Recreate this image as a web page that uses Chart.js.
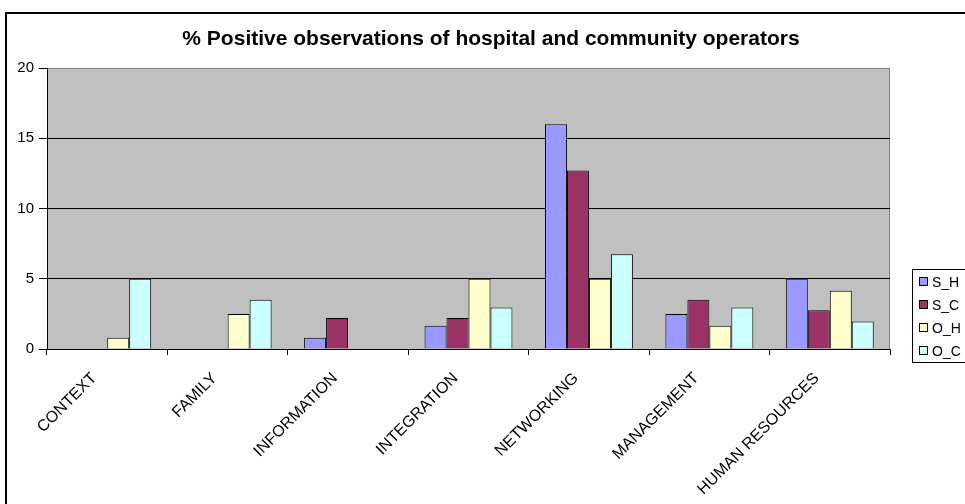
<!DOCTYPE html>
<html>
<head>
<meta charset="utf-8">
<script src="https://cdn.jsdelivr.net/npm/chart.js@4.4.1/dist/chart.umd.min.js"></script>
<style>
  html, body { margin: 0; padding: 0; background: #fff; overflow: hidden; }
  #wrap { width: 965px; height: 504px; }
</style>
</head>
<body>
<div id="wrap"><canvas id="myChart" width="965" height="504"></canvas></div>
<script>
// categories and series
var categories = ['CONTEXT', 'FAMILY', 'INFORMATION', 'INTEGRATION', 'NETWORKING', 'MANAGEMENT', 'HUMAN RESOURCES'];
var S_H = [0, 0, 0.8, 1.65, 16.0, 2.5, 5];
var S_C = [0, 0, 2.2, 2.2, 12.7, 3.5, 2.75];
var O_H = [0.8, 2.5, 0, 5, 5, 1.65, 4.15];
var O_C = [5, 3.5, 0, 2.95, 6.75, 2.95, 1.95];
var yTicks = [0, 5, 10, 15, 20];
var titleText = '% Positive observations of hospital and community operators';

// frame, plot background, title and legend
var decor = {
  id: 'decor',
  beforeDraw: function(chart) {
    var c = chart.ctx, a = chart.chartArea;
    c.save();
    c.fillStyle = '#fff';
    c.fillRect(0, 0, chart.width, chart.height);
    c.strokeStyle = '#000';
    c.lineWidth = 2;
    c.strokeRect(6, 13, 1100, 700);
    c.fillStyle = '#c0c0c0';
    c.fillRect(a.left, a.top, a.right - a.left, a.bottom - a.top);
    c.strokeStyle = '#808080';
    c.lineWidth = 1;
    c.strokeRect(a.left + 0.5, a.top + 0.5, a.right - a.left - 1, a.bottom - a.top);
    c.restore();
  },
  afterDraw: function(chart) {
    var c = chart.ctx;
    c.save();
    c.fillStyle = '#000';
    c.font = 'bold 21px "Liberation Sans", Arial, sans-serif';
    c.textAlign = 'center';
    c.textBaseline = 'middle';
    c.fillText(titleText, 491, 39);
    // legend
    c.strokeStyle = '#000';
    c.lineWidth = 1;
    c.strokeRect(912.5, 269.5, 200, 93);
    c.font = '14px "Liberation Sans", Arial, sans-serif';
    c.textAlign = 'left';
    chart.data.datasets.forEach(function(ds, i) {
      var y = 282 + i * 23;
      c.fillStyle = ds.backgroundColor;
      c.fillRect(919.5, y - 4.5, 8, 8);
      c.strokeRect(919.5, y - 4.5, 8, 8);
      c.fillStyle = '#000';
      c.fillText(ds.label, 932, y + 1);
    });
    c.restore();
  }
};

function mk(label, data, color) {
  return {
    label: label,
    data: data,
    backgroundColor: color,
    borderColor: '#000',
    borderWidth: 1,
    categoryPercentage: 0.73,
    barPercentage: 1.0
  };
}

var config = {
  type: 'bar',
  data: {
    labels: categories,
    datasets: [
      mk('S_H', S_H, '#9999ff'),
      mk('S_C', S_C, '#993366'),
      mk('O_H', O_H, '#ffffcc'),
      mk('O_C', O_C, '#ccffff')
    ]
  },
  options: {
    responsive: false,
    animation: false,
    layout: { padding: { left: 0, top: 68, right: 75, bottom: 0 } },
    plugins: { legend: { display: false }, title: { display: false }, tooltip: { enabled: false } },
    scales: {
      x: {
        grid: { offset: true, drawOnChartArea: false, drawTicks: true, tickLength: 6, color: '#000' },
        border: { color: '#000' },
        ticks: {
          color: '#000',
          font: { family: '"Liberation Sans", Arial, sans-serif', size: 16 },
          minRotation: 45, maxRotation: 45, autoSkip: false, padding: 14, labelOffset: -13
        },
        afterFit: function(s) { s.height = 155; }
      },
      y: {
        min: 0, max: 20,
        afterBuildTicks: function(s) { s.ticks = yTicks.map(function(v) { return { value: v }; }); },
        grid: {
          color: function(ctx) { return ctx.tick && ctx.tick.value === 20 ? '#808080' : '#000'; },
          tickLength: 8, tickColor: '#000'
        },
        border: { color: '#000' },
        ticks: {
          color: '#000',
          font: { family: '"Liberation Sans", Arial, sans-serif', size: 15 },
          padding: 5
        },
        afterFit: function(s) { s.width = 47; }
      }
    }
  },
  plugins: [decor]
};

window.ctx = document.getElementById('myChart').getContext('2d');
window.myChart = new Chart(ctx, config);
</script>
</body>
</html>
